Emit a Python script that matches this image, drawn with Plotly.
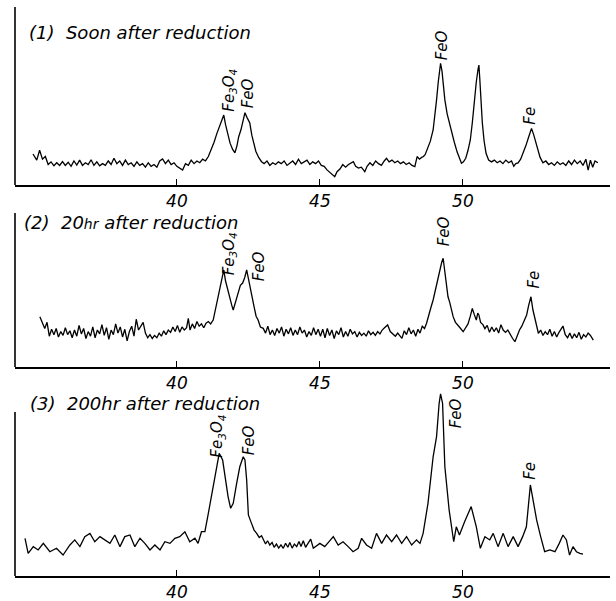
import plotly.graph_objects as go

# ---------------- data (2-theta in degrees, intensity in arbitrary units) -------------
two_theta_1 = [34.97,35.1,35.2,35.3,35.4,35.5,35.6,35.7,35.8,35.9,36.0,36.1,36.2,36.3,36.4,36.5,36.6,36.7,36.8,36.9,
               37.0,37.1,37.2,37.3,37.4,37.5,37.6,37.7,37.8,37.9,38.0,38.1,38.2,38.3,38.4,38.5,38.6,38.7,38.8,38.9,
               39.0,39.1,39.2,39.3,39.4,39.5,39.6,39.7,39.8,39.9,40.0,40.1,40.2,40.3,40.4,40.5,40.6,40.7,40.8,40.9,
               41.0,41.1,41.2,41.3,41.4,41.5,41.58,41.64,41.70,41.78,41.86,41.95,42.03,42.10,42.16,42.24,42.31,42.38,
               42.45,42.55,42.62,42.68,42.76,42.86,42.96,43.05,43.15,43.25,43.35,43.45,43.55,43.65,43.75,43.85,43.95,
               44.05,44.15,44.25,44.35,44.45,44.55,44.65,44.75,44.85,44.95,45.05,45.15,45.25,45.35,45.45,45.52,45.60,
               45.70,45.80,45.90,46.00,46.10,46.17,46.25,46.35,46.45,46.57,46.65,46.75,46.85,46.95,47.05,47.15,47.25,
               47.33,47.42,47.52,47.62,47.72,47.82,47.92,48.02,48.12,48.22,48.32,48.40,48.48,48.56,48.62,48.68,48.76,
               48.86,48.96,49.03,49.08,49.14,49.19,49.22,49.27,49.32,49.37,49.45,49.52,49.60,49.70,49.80,49.88,49.95,
               50.02,50.10,50.18,50.26,50.33,50.40,50.47,50.53,50.56,50.59,50.63,50.68,50.74,50.81,50.90,51.00,51.10,
               51.20,51.30,51.40,51.50,51.60,51.70,51.78,51.85,51.93,52.02,52.11,52.20,52.30,52.40,52.48,52.56,52.62,
               52.70,52.80,52.90,53.00,53.10,53.20,53.30,53.40,53.50,53.60,53.70,53.80,53.90,54.00,54.10,54.20,54.30,
               54.38,54.46,54.54,54.62,54.72]
intensity_1 = [17.4,14.0,19.5,14.5,16.0,11.5,13.0,10.8,12.5,11.0,13.2,11.0,12.8,10.5,13.5,11.2,14.0,11.0,12.5,11.5,
               14.2,11.0,13.0,10.8,12.0,11.0,13.5,11.5,15.0,12.0,13.5,11.0,14.0,11.5,12.5,10.5,13.0,11.0,12.0,10.0,
               12.5,10.5,11.5,10.0,13.5,14.6,12.0,14.0,11.5,12.5,10.5,9.5,8.4,12.0,11.0,14.0,12.0,13.5,12.5,14.5,
               13.5,16.0,19.5,24.0,29.0,33.5,37.0,39.3,34.0,28.0,23.5,20.0,18.1,22.0,27.0,31.0,36.0,40.6,
               38.0,34.8,28.0,23.5,19.0,15.5,13.1,12.0,13.5,11.0,12.5,11.5,13.0,12.0,13.5,11.0,12.5,
               13.5,11.5,14.5,12.0,13.0,14.0,11.5,13.0,12.0,13.5,11.0,10.5,8.5,7.0,5.5,4.7,7.5,
               9.0,11.5,10.0,11.5,12.5,13.1,10.5,9.5,10.0,7.5,10.5,12.5,11.0,13.5,12.0,11.0,13.5,
               15.0,13.0,14.0,12.5,13.5,12.0,13.0,11.5,12.5,11.0,10.3,16.0,14.5,15.5,16.0,17.0,20.0,
               24.5,30.9,39.0,47.8,58.0,65.0,68.4,64.0,56.0,47.8,40.0,35.0,30.9,24.0,18.5,14.5,12.2,
               13.0,15.0,19.5,25.3,35.0,47.8,58.0,65.0,67.4,60.0,47.8,35.0,25.0,17.8,14.0,13.0,14.0,
               12.5,13.5,12.0,14.0,12.5,13.5,10.5,12.0,12.4,14.5,17.8,22.0,27.0,31.8,28.0,23.0,19.7,
               15.5,12.5,13.5,11.5,12.5,11.0,13.0,11.5,12.5,11.0,13.5,11.5,14.0,12.0,13.5,11.0,14.5,
               8.4,14.0,10.0,13.5,12.5]

two_theta_2 = [35.21,35.30,35.38,35.46,35.54,35.62,35.70,35.78,35.86,35.94,36.02,36.10,36.18,36.26,36.34,36.42,36.50,
               36.58,36.66,36.74,36.82,36.90,36.98,37.06,37.14,37.22,37.30,37.38,37.46,37.54,37.62,37.70,37.78,37.86,
               37.94,38.02,38.10,38.18,38.26,38.34,38.42,38.50,38.58,38.66,38.74,38.82,38.90,38.98,39.06,39.14,39.22,
               39.30,39.38,39.46,39.54,39.62,39.70,39.78,39.86,39.94,40.02,40.10,40.18,40.26,40.34,40.40,40.46,40.54,
               40.62,40.70,40.78,40.86,40.94,41.02,41.10,41.18,41.27,41.35,41.44,41.52,41.58,41.64,41.70,41.75,41.79,
               41.86,41.92,41.97,42.05,42.13,42.22,42.30,42.37,42.44,42.52,42.61,42.70,42.77,42.84,42.92,43.02,43.10,
               43.18,43.26,43.34,43.42,43.50,43.58,43.66,43.74,43.82,43.90,43.98,44.06,44.14,44.22,44.30,44.38,44.46,
               44.54,44.62,44.70,44.78,44.86,44.94,45.02,45.10,45.18,45.26,45.34,45.42,45.50,45.58,45.66,45.74,45.82,
               45.90,45.98,46.06,46.14,46.22,46.30,46.38,46.46,46.54,46.62,46.70,46.78,46.86,46.94,47.02,47.10,47.18,
               47.26,47.37,47.46,47.55,47.64,47.72,47.80,47.87,47.95,48.03,48.11,48.19,48.27,48.35,48.43,48.50,48.58,
               48.66,48.73,48.80,48.88,48.96,49.04,49.12,49.20,49.26,49.31,49.36,49.42,49.48,49.54,49.60,49.66,49.74,
               49.82,49.90,50.01,50.10,50.18,50.26,50.33,50.40,50.47,50.52,50.56,50.62,50.70,50.77,50.85,50.93,51.01,
               51.09,51.17,51.25,51.33,51.41,51.49,51.57,51.65,51.74,51.82,51.90,51.98,52.06,52.14,52.23,52.30,52.38,
               52.45,52.52,52.58,52.64,52.72,52.80,52.88,52.96,53.04,53.12,53.20,53.28,53.36,53.44,53.50,53.58,53.66,
               53.74,53.82,53.90,53.98,54.06,54.14,54.22,54.30,54.38,54.46,54.56]
intensity_2 = [32.7,28.0,25.0,29.0,20.0,24.5,21.0,25.0,19.5,23.0,20.5,25.5,21.0,23.5,19.0,24.0,20.0,
               27.0,21.5,25.0,18.5,23.0,20.0,26.0,19.0,24.0,21.5,27.5,20.5,25.5,18.0,24.0,21.0,28.0,
               22.0,26.0,19.5,24.5,17.0,23.0,26.5,20.0,31.0,24.0,27.0,29.0,22.0,19.0,21.0,18.5,20.5,
               19.0,22.0,20.0,23.5,21.0,24.0,22.5,26.0,23.0,27.0,22.5,26.0,24.0,25.5,31.6,24.0,28.0,
               25.0,29.5,26.5,28.0,25.5,28.5,29.5,28.0,30.5,38.0,45.6,53.0,58.5,63.0,56.0,52.0,50.0,
               44.0,40.0,37.0,42.0,47.0,53.0,54.5,58.0,63.0,55.0,47.8,39.0,33.0,30.5,26.0,25.1,22.0,
               26.5,21.0,24.0,20.5,25.0,22.0,26.0,20.0,24.5,21.5,25.5,20.5,24.0,21.0,26.0,22.0,24.0,
               19.5,23.0,20.5,25.5,21.0,24.5,20.0,24.5,19.0,25.0,20.5,24.0,18.5,23.5,21.0,25.5,19.5,
               23.0,20.0,24.5,21.5,23.0,19.5,22.5,20.5,22.0,20.0,23.5,21.0,22.5,20.5,23.0,21.5,24.0,
               25.5,27.3,23.0,21.5,20.0,22.0,20.5,18.6,23.5,21.0,25.5,21.5,24.0,20.0,24.5,22.0,26.5,
               25.0,28.4,34.0,38.5,43.5,50.0,57.0,64.0,68.0,70.6,63.0,53.0,45.6,42.0,37.5,32.7,29.0,
               27.5,25.5,22.9,25.5,28.0,33.0,38.0,34.0,30.5,35.0,33.8,29.0,27.5,24.9,27.0,22.5,26.0,
               23.0,25.5,22.0,27.5,24.0,22.5,24.0,21.0,18.5,16.4,21.0,24.0,26.5,30.0,33.8,40.0,45.6,
               37.0,31.0,26.0,21.9,24.0,20.5,23.0,21.0,24.5,20.0,23.0,19.5,22.5,24.5,26.6,21.0,19.0,
               22.0,18.5,21.5,19.0,22.5,18.0,21.0,19.5,22.0,20.5,17.5]

two_theta_3 = [34.69,34.80,34.98,35.15,35.33,35.56,35.79,36.02,36.26,36.43,36.61,36.78,36.96,37.13,37.31,37.48,
               37.66,37.83,38.01,38.18,38.36,38.53,38.71,38.88,39.06,39.23,39.41,39.58,39.76,39.93,40.10,40.28,
               40.45,40.63,40.74,40.86,40.98,41.10,41.27,41.39,41.48,41.60,41.68,41.79,41.88,41.97,42.09,42.20,
               42.32,42.38,42.44,42.50,42.61,42.70,42.79,42.88,42.96,43.02,43.10,43.17,43.25,43.33,43.40,43.48,
               43.56,43.64,43.72,43.80,43.88,43.95,44.03,44.11,44.19,44.27,44.34,44.42,44.50,44.59,44.68,44.77,
               45.00,45.17,45.47,45.64,45.81,45.99,46.16,46.34,46.46,46.63,46.81,46.98,47.16,47.33,47.51,47.68,
               47.86,48.03,48.21,48.38,48.50,48.61,48.78,48.96,49.08,49.17,49.22,49.29,49.37,49.52,49.68,49.77,
               49.88,50.06,50.29,50.47,50.61,50.77,50.94,51.06,51.23,51.41,51.58,51.76,51.93,52.09,52.22,52.36,
               52.46,52.58,52.72,52.86,53.04,53.22,53.37,53.50,53.62,53.73,53.85,53.97,54.09,54.20]
intensity_3 = [23.0,13.8,17.9,15.9,19.9,14.8,16.9,12.8,18.9,22.0,17.9,24.0,26.0,20.9,24.0,22.0,
               19.9,25.0,17.9,24.0,25.0,17.9,23.0,19.9,15.9,18.9,15.9,20.9,19.9,23.0,24.0,27.0,
               20.9,23.0,19.9,27.0,27.0,38.2,54.5,66.6,74.8,70.7,60.5,48.4,41.3,44.3,56.5,66.6,
               72.7,70.7,58.5,37.2,32.1,28.0,26.0,23.5,24.5,22.0,19.5,21.5,18.9,20.5,17.5,19.5,
               17.0,19.0,16.9,20.0,17.5,20.5,17.0,19.5,17.9,21.0,18.0,21.5,17.5,20.0,22.5,16.9,
               19.9,17.9,24.0,18.9,20.9,17.9,14.8,16.9,23.0,18.9,16.9,26.0,19.9,25.0,20.9,25.0,
               19.9,24.0,18.9,22.0,19.9,26.0,44.3,72.7,85.0,105.3,111.0,105.3,66.6,40.2,20.9,30.0,
               25.0,33.1,42.3,30.0,16.9,24.0,22.0,26.0,17.9,26.0,17.9,24.0,17.9,24.0,30.0,55.5,
               46.3,34.1,24.0,14.8,15.9,14.8,19.9,25.0,22.0,12.8,17.9,14.8,13.8,13.4]

panel_titles = ["(1)  Soon after reduction",
                "(2)  20<span style='font-size:14px'>hr</span> after reduction",
                "(3)  200hr after reduction"]
tick_values = [40, 45, 50]
tick_labels = ["40", "45", "50"]

peak_labels = ["Fe<sub>3</sub>O<sub>4</sub>", "FeO", "FeO", "Fe"]
peak_label_x = [[41.85, 42.48, 49.25, 52.34],
                [41.85, 42.90, 49.37, 52.47],
                [41.44, 42.50, 49.77, 52.34]]
peak_label_y = [[53.4, 51.4, 78.7, 38.8],
                [73.7, 65.3, 88.0, 56.5],
                [85.0, 83.0, 99.4, 64.0]]

# ---------------- layout geometry (pixels) ----------------
W, H = 616, 601
X_LEFT, X_RIGHT = 15, 610
X_RANGE = [34.34, 34.34 + (X_RIGHT - X_LEFT) / 28.6]
# (axis line px, spine top px, domain top px)
panels = [(185, 7, 4), (367, 213, 205), (576, 412, 385)]
title_pos = [(27, 33), (22, 222), (28, 403)]

FONT = "DejaVu Sans"
series = [(two_theta_1, intensity_1), (two_theta_2, intensity_2), (two_theta_3, intensity_3)]

fig = go.Figure()
for i, ((tt, inten), (ax_px, top_px, dom_px)) in enumerate(zip(series, panels)):
    n = "" if i == 0 else str(i + 1)
    fig.add_trace(go.Scatter(x=tt, y=inten, mode="lines",
                             line=dict(color="black", width=1.3),
                             xaxis="x" + n, yaxis="y" + n, showlegend=False,
                             hoverinfo="skip"))
    y_top = (ax_px - dom_px) / (ax_px - top_px) * 100
    fig.update_layout(**{
        "xaxis" + n: dict(domain=[X_LEFT / W, X_RIGHT / W], range=X_RANGE,
                          anchor="y" + n, showline=True, linecolor="black", linewidth=1.6,
                          ticks="inside", ticklen=6, tickwidth=1.2, tickcolor="black",
                          tickvals=tick_values, ticktext=tick_labels,
                          tickfont=dict(family=FONT, size=17, color="black", style="italic"),
                          showgrid=False, zeroline=False),
        "yaxis" + n: dict(domain=[1 - ax_px / H, 1 - dom_px / H], range=[0, y_top],
                          anchor="x" + n, visible=False, showgrid=False, zeroline=False),
    })
    # left spine
    fig.add_shape(type="line", xref="paper", yref="y" + n,
                  x0=X_LEFT / W, x1=X_LEFT / W, y0=0, y1=100,
                  line=dict(color="black", width=1.6))
    # peak labels
    for txt, px, py in zip(peak_labels, peak_label_x[i], peak_label_y[i]):
        fig.add_annotation(x=px, y=py, xref="x" + n, yref="y" + n, text=txt,
                           textangle=-90, showarrow=False, xanchor="center", yanchor="middle",
                           font=dict(family=FONT, size=15, color="black", style="italic"))
    tx, ty = title_pos[i]
    fig.add_annotation(x=tx / W, y=1 - ty / H, xref="paper", yref="paper",
                       text=panel_titles[i], showarrow=False, xanchor="left", yanchor="middle",
                       font=dict(family=FONT, size=18, color="black", style="italic"))

fig.update_layout(width=W, height=H, margin=dict(l=0, r=0, t=0, b=0),
                  paper_bgcolor="white", plot_bgcolor="white", autosize=False)

fig.write_html("out.html")
